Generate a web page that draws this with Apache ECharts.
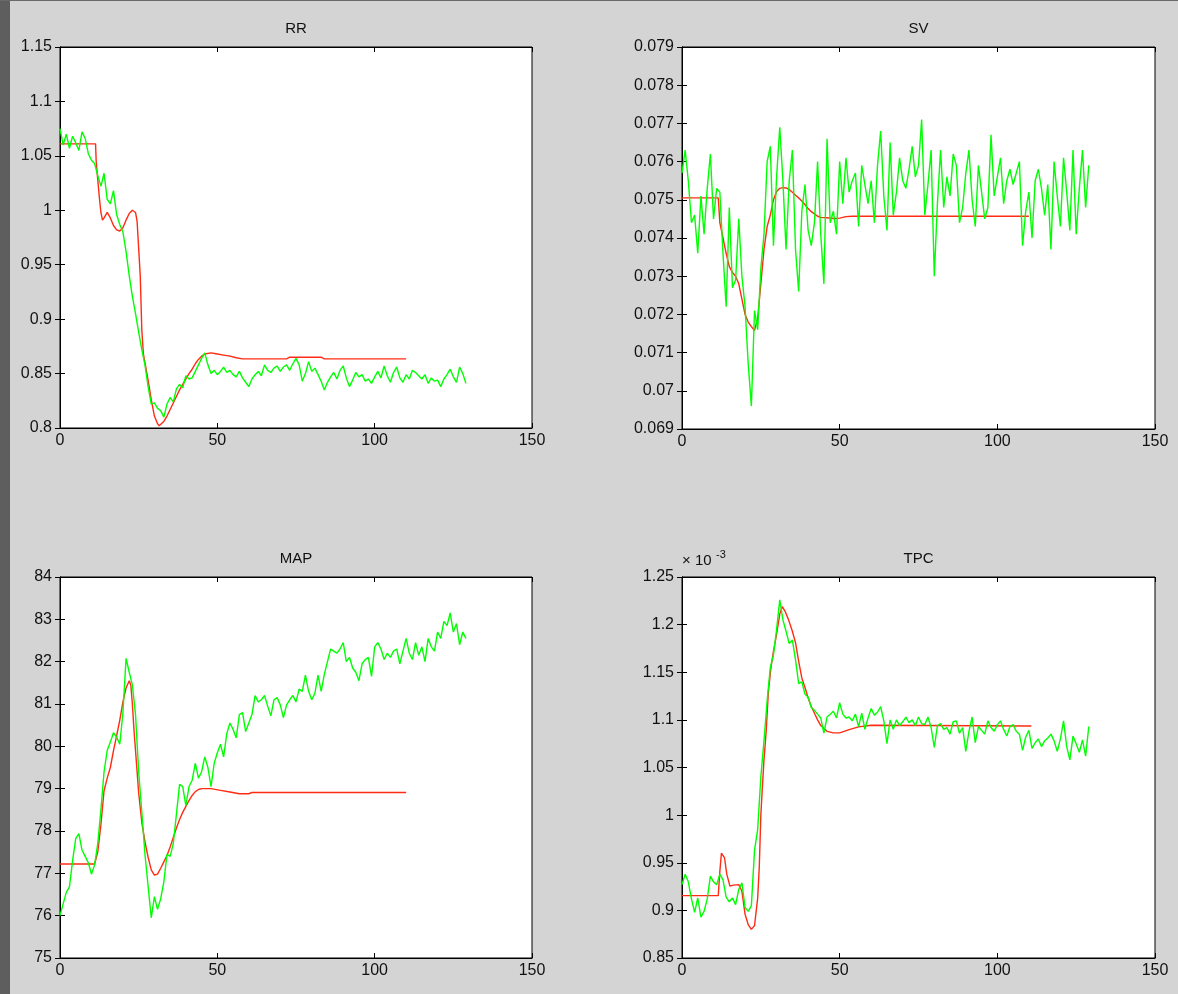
<!DOCTYPE html>
<html>
<head>
<meta charset="utf-8">
<script src="https://cdn.jsdelivr.net/npm/echarts@6/dist/echarts.min.js"></script>
<style>
  html, body { margin: 0; padding: 0; background: #d4d4d4; }
  #chart { width: 1178px; height: 994px; }
</style>
</head>
<body>
<div id="chart"></div>
<script>
// Measured signals (green, one sample per time unit) and model response (red)
const panelTitles = ['RR', 'SV', 'MAP', 'TPC'];

const rrMeasured = [
  1.075, 1.060, 1.070, 1.057, 1.068, 1.062, 1.055, 1.072, 1.066, 1.052,
  1.046, 1.043, 1.032, 1.022, 1.034, 1.010, 1.006, 1.018, 0.996, 0.987,
  0.980, 0.962, 0.940, 0.921, 0.905, 0.888, 0.872, 0.858, 0.838, 0.822,
  0.823, 0.818, 0.816, 0.810, 0.822, 0.828, 0.824, 0.836, 0.840, 0.837,
  0.848, 0.845, 0.846, 0.852, 0.858, 0.864, 0.869, 0.858, 0.850, 0.853,
  0.849, 0.852, 0.856, 0.851, 0.853, 0.849, 0.847, 0.852, 0.846, 0.842,
  0.838, 0.845, 0.849, 0.852, 0.848, 0.858, 0.853, 0.851, 0.855, 0.857,
  0.852, 0.856, 0.858, 0.853, 0.859, 0.864, 0.858, 0.843, 0.850, 0.861,
  0.852, 0.855, 0.849, 0.843, 0.835, 0.842, 0.847, 0.851, 0.845, 0.853,
  0.857, 0.846, 0.838, 0.844, 0.851, 0.847, 0.849, 0.843, 0.845, 0.841,
  0.847, 0.852, 0.846, 0.857, 0.848, 0.842, 0.851, 0.856, 0.846, 0.842,
  0.849, 0.845, 0.853, 0.851, 0.848, 0.845, 0.849, 0.841, 0.846, 0.843,
  0.844, 0.838, 0.845, 0.849, 0.854, 0.847, 0.842, 0.856, 0.850, 0.841
];
const rrModelT = [0, 11.3, 11.5, 12, 12.5, 13, 13.5, 14, 15, 16, 17, 18, 19, 20, 21, 22, 23, 24, 24.5, 25,
  25.5, 26, 26.5, 27, 28, 29, 30, 31, 31.5, 32, 33, 34, 35, 36, 37, 38, 39, 40, 41, 42, 43, 44, 45, 46,
  48, 50, 52, 54, 56, 58, 72, 73, 83, 84, 110];
const rrModel = [1.061, 1.061, 1.045, 1.028, 1.012, 0.998, 0.991, 0.993, 0.998, 0.993, 0.986, 0.982, 0.981,
  0.984, 0.991, 0.997, 1.000, 0.998, 0.990, 0.965, 0.940, 0.890, 0.868, 0.860, 0.844, 0.826, 0.811, 0.804,
  0.802, 0.803, 0.806, 0.811, 0.817, 0.823, 0.829, 0.835, 0.840, 0.845, 0.850, 0.854, 0.859, 0.863, 0.866,
  0.868, 0.869, 0.868, 0.867, 0.866, 0.8645, 0.8635, 0.8635, 0.865, 0.865, 0.8635, 0.8635];

const svMeasured = [
  0.0757, 0.0763, 0.0755, 0.0744, 0.0746, 0.0736, 0.0751, 0.0741, 0.0753, 0.0762,
  0.0745, 0.0753, 0.0752, 0.0736, 0.0722, 0.0748, 0.0727, 0.0729, 0.0745, 0.0730,
  0.0722, 0.0707, 0.0696, 0.0721, 0.0716, 0.0732, 0.0741, 0.0760, 0.0764, 0.0738,
  0.0756, 0.0769, 0.0755, 0.0737, 0.0755, 0.0763, 0.0737, 0.0726, 0.0747, 0.0754,
  0.0742, 0.0738, 0.0744, 0.0760, 0.0741, 0.0728, 0.0766, 0.0744, 0.0747, 0.0741,
  0.0760, 0.0749, 0.0761, 0.0752, 0.0755, 0.0757, 0.0743, 0.0759, 0.0754, 0.0749,
  0.0755, 0.0744, 0.0759, 0.0768, 0.0751, 0.0742, 0.0765, 0.0746, 0.0752, 0.0761,
  0.0755, 0.0753, 0.0758, 0.0764, 0.0756, 0.0759, 0.0771, 0.0746, 0.0754, 0.0763,
  0.0730, 0.0749, 0.0763, 0.0748, 0.0756, 0.0751, 0.0762, 0.0759, 0.0744, 0.0748,
  0.0757, 0.0763, 0.0750, 0.0743, 0.0759, 0.0752, 0.0745, 0.0748, 0.0767, 0.0751,
  0.0756, 0.0761, 0.0749, 0.0755, 0.0758, 0.0754, 0.0757, 0.0760, 0.0738, 0.0747,
  0.0752, 0.0740, 0.0755, 0.0758, 0.0753, 0.0746, 0.0754, 0.0737, 0.0760, 0.0751,
  0.0743, 0.0761, 0.0752, 0.0742, 0.0763, 0.0741, 0.0753, 0.0763, 0.0748, 0.0759
];
const svModelT = [0, 11.5, 12, 13, 14, 15, 16, 17, 18, 19, 20, 21, 22, 23, 23.5, 24, 25, 26, 27, 28, 29, 30,
  31, 32, 33, 34, 35, 36, 37, 38, 39, 40, 41, 42, 43, 44, 46, 48, 50, 52, 54, 110];
const svModel = [0.07505, 0.07505, 0.0744, 0.0740, 0.0736, 0.07325, 0.0731, 0.0730, 0.0728, 0.0724, 0.0720,
  0.0718, 0.07168, 0.07158, 0.07155, 0.0719, 0.0728, 0.0737, 0.0743, 0.0746, 0.0750, 0.07522, 0.0753,
  0.07532, 0.07531, 0.07527, 0.0752, 0.07512, 0.07505, 0.07497, 0.07487, 0.07477, 0.07469, 0.07463,
  0.07457, 0.07454, 0.07453, 0.07451, 0.07452, 0.07456, 0.07457, 0.07457];

const mapMeasured = [
  76.00, 76.28, 76.55, 76.68, 77.30, 77.82, 77.94, 77.55, 77.40, 77.25,
  76.98, 77.20, 77.70, 78.50, 79.40, 79.90, 80.10, 80.32, 80.22, 80.05,
  80.80, 82.08, 81.75, 81.45, 80.75, 79.40, 78.45, 77.45, 76.70, 75.95,
  76.45, 76.15, 76.40, 76.80, 77.45, 77.40, 77.70, 78.40, 79.10, 79.05,
  78.60, 79.05, 79.20, 79.60, 79.25, 79.40, 79.75, 79.50, 79.05, 79.60,
  79.85, 80.05, 79.75, 80.30, 80.55, 80.40, 80.20, 80.75, 80.80, 80.35,
  80.55, 80.75, 81.20, 81.05, 81.10, 81.20, 80.95, 80.72, 81.10, 81.15,
  80.98, 80.68, 80.98, 81.10, 81.20, 81.05, 81.35, 81.30, 81.68, 81.30,
  81.10, 81.25, 81.68, 81.30, 81.70, 82.00, 82.30, 82.25, 82.20, 82.30,
  82.45, 82.00, 82.10, 81.85, 81.75, 81.55, 81.95, 82.05, 82.10, 81.65,
  82.35, 82.45, 82.30, 82.05, 82.20, 82.10, 82.25, 82.30, 81.95, 82.25,
  82.55, 82.20, 82.05, 82.45, 82.15, 82.35, 82.00, 82.55, 82.35, 82.25,
  82.70, 82.55, 82.95, 82.85, 83.15, 82.70, 82.90, 82.40, 82.70, 82.55
];
const mapModelT = [0, 11, 12, 13, 14, 15, 16, 17, 18, 19, 20, 21, 22, 22.5, 23, 23.5, 24, 25, 26, 27, 28, 29,
  30, 31, 32, 33, 34, 35, 36, 37, 38, 39, 40, 41, 42, 43, 44, 45, 48, 51, 54, 57, 60, 61, 110];
const mapModel = [77.22, 77.22, 77.50, 78.15, 78.95, 79.25, 79.50, 79.90, 80.25, 80.62, 81.05, 81.38, 81.55,
  81.45, 81.00, 80.40, 79.90, 78.90, 78.20, 77.75, 77.38, 77.08, 76.96, 76.98, 77.12, 77.27, 77.42, 77.62,
  77.85, 78.07, 78.27, 78.44, 78.58, 78.72, 78.84, 78.93, 78.98, 79.00, 79.00, 78.96, 78.92, 78.88, 78.88,
  78.91, 78.91];

// TPC values are stored in units of 1e-3
const tpcMeasured = [
  0.927, 0.938, 0.930, 0.912, 0.898, 0.913, 0.893, 0.899, 0.912, 0.936,
  0.930, 0.927, 0.938, 0.932, 0.914, 0.909, 0.913, 0.906, 0.922, 0.929,
  0.903, 0.899, 0.905, 0.963, 0.985, 1.040, 1.078, 1.120, 1.155, 1.168,
  1.195, 1.226, 1.205, 1.193, 1.180, 1.184, 1.163, 1.138, 1.140, 1.127,
  1.124, 1.113, 1.110, 1.106, 1.102, 1.086, 1.103, 1.106, 1.109, 1.102,
  1.118, 1.106, 1.102, 1.103, 1.099, 1.106, 1.093, 1.107, 1.090, 1.102,
  1.112, 1.105, 1.108, 1.114, 1.099, 1.075, 1.100, 1.090, 1.100, 1.094,
  1.098, 1.103, 1.097, 1.100, 1.094, 1.103, 1.096, 1.095, 1.103, 1.092,
  1.071, 1.094, 1.096, 1.090, 1.092, 1.085, 1.098, 1.099, 1.086, 1.092,
  1.067, 1.088, 1.103, 1.076, 1.093, 1.089, 1.085, 1.099, 1.092, 1.088,
  1.095, 1.099, 1.090, 1.083, 1.093, 1.095, 1.088, 1.085, 1.068, 1.082,
  1.089, 1.070, 1.076, 1.080, 1.072, 1.078, 1.081, 1.085, 1.078, 1.067,
  1.080, 1.099, 1.072, 1.058, 1.083, 1.075, 1.066, 1.079, 1.062, 1.093
];
const tpcModelT = [0, 11.5, 12, 12.5, 13.5, 14.2, 15.2, 16.3, 18, 19, 20, 21, 22, 23, 24, 24.5, 25, 25.5, 26,
  26.7, 27.4, 28.2, 29, 30, 31, 31.8, 32.7, 33.8, 35, 36, 37, 38, 39, 40, 41, 42, 43, 44, 46, 48, 50, 53,
  56, 60, 110.8];
const tpcModel = [0.9155, 0.9155, 0.941, 0.960, 0.955, 0.938, 0.9255, 0.9265, 0.927, 0.920, 0.896, 0.885,
  0.880, 0.884, 0.913, 0.945, 1.000, 1.030, 1.058, 1.088, 1.130, 1.1545, 1.172, 1.190, 1.211, 1.219,
  1.214, 1.205, 1.193, 1.181, 1.1615, 1.144, 1.134, 1.123, 1.114, 1.107, 1.100, 1.094, 1.088, 1.0863,
  1.0863, 1.0898, 1.0926, 1.0944, 1.0935];

// Axis ranges: [min, max, interval, label decimals]
const xRange = [0, 150, 50];
const yRanges = [
  [0.8, 1.15, 0.05, 3],
  [0.069, 0.079, 0.001, 3],
  [75, 84, 1, 0],
  [0.85, 1.25, 0.05, 2]
];

const measuredSets = [rrMeasured, svMeasured, mapMeasured, tpcMeasured];
const modelSets = [[rrModelT, rrModel], [svModelT, svModel], [mapModelT, mapModel], [tpcModelT, tpcModel]];

const GREEN = '#00ff00';
const RED = '#ff2b12';
const FONT = '"Liberation Sans", Arial, sans-serif';

const panels = [
  { left: 60, top: 47, width: 472, height: 381 },
  { left: 682, top: 47, width: 473, height: 382 },
  { left: 60, top: 577, width: 472, height: 381 },
  { left: 682, top: 577, width: 473, height: 381 }
];

const grids = [], xAxes = [], yAxes = [], series = [], graphics = [];

graphics.push({ type: 'rect', shape: { x: 0, y: 0, width: 10, height: 994 }, style: { fill: '#5d5e5d' }, silent: true });
graphics.push({ type: 'rect', shape: { x: 0, y: 0, width: 1178, height: 1 }, style: { fill: '#6a6a6a' }, silent: true });

const tick = { show: true, inside: true, length: 5, lineStyle: { color: '#000', width: 1 } };
const axisLine = { show: true, lineStyle: { color: '#000', width: 1 } };
const labelStyle = { color: '#111', fontSize: 16, fontFamily: FONT };

panels.forEach((p, i) => {
  grids.push({ left: p.left, top: p.top, width: p.width, height: p.height, show: true,
    backgroundColor: '#ffffff', borderColor: '#000', borderWidth: 1, containLabel: false });
  const yr = yRanges[i];
  const dec = yr[3];
  // bottom and top x axes (top one only carries ticks)
  xAxes.push({ type: 'value', gridIndex: i, min: xRange[0], max: xRange[1], interval: xRange[2],
    position: 'bottom', axisLine, axisTick: tick, splitLine: { show: false },
    axisLabel: { ...labelStyle, margin: 5 } });
  xAxes.push({ type: 'value', gridIndex: i, min: xRange[0], max: xRange[1], interval: xRange[2],
    position: 'top', axisLine, axisTick: tick, splitLine: { show: false }, axisLabel: { show: false } });
  yAxes.push({ type: 'value', gridIndex: i, min: yr[0], max: yr[1], interval: yr[2],
    position: 'left', axisLine, axisTick: tick, splitLine: { show: false },
    axisLabel: { ...labelStyle, margin: 8, formatter: v => String(+(+v).toFixed(dec)) } });
  yAxes.push({ type: 'value', gridIndex: i, min: yr[0], max: yr[1], interval: yr[2],
    position: 'right', axisLine, axisTick: tick, splitLine: { show: false }, axisLabel: { show: false } });

  const [mt, mv] = modelSets[i];
  series.push({ type: 'line', xAxisIndex: 2 * i, yAxisIndex: 2 * i, showSymbol: false, silent: true,
    data: mt.map((t, k) => [t, mv[k]]), lineStyle: { color: RED, width: 1.4 }, z: 2 });
  series.push({ type: 'line', xAxisIndex: 2 * i, yAxisIndex: 2 * i, showSymbol: false, silent: true,
    data: measuredSets[i].map((v, k) => [k, v]), lineStyle: { color: GREEN, width: 1.4 }, z: 3 });

  graphics.push({ type: 'text', x: p.left + p.width / 2, y: p.top - 18, silent: true,
    style: { text: panelTitles[i], fill: '#111', font: '15px ' + FONT, textAlign: 'center', textVerticalAlign: 'middle' } });
});

// exponent note above the TPC axis
graphics.push({ type: 'text', x: 682, y: 568, silent: true,
  style: { text: '× 10', fill: '#111', font: '15px ' + FONT, textAlign: 'left', textVerticalAlign: 'bottom' } });
graphics.push({ type: 'text', x: 716, y: 560, silent: true,
  style: { text: '-3', fill: '#111', font: '11px ' + FONT, textAlign: 'left', textVerticalAlign: 'bottom' } });

const chart = echarts.init(document.getElementById('chart'), null, { renderer: 'canvas' });
chart.setOption({
  backgroundColor: '#d4d4d4',
  animation: false,
  grid: grids,
  xAxis: xAxes,
  yAxis: yAxes,
  series,
  graphic: graphics
});
</script>
</body>
</html>
